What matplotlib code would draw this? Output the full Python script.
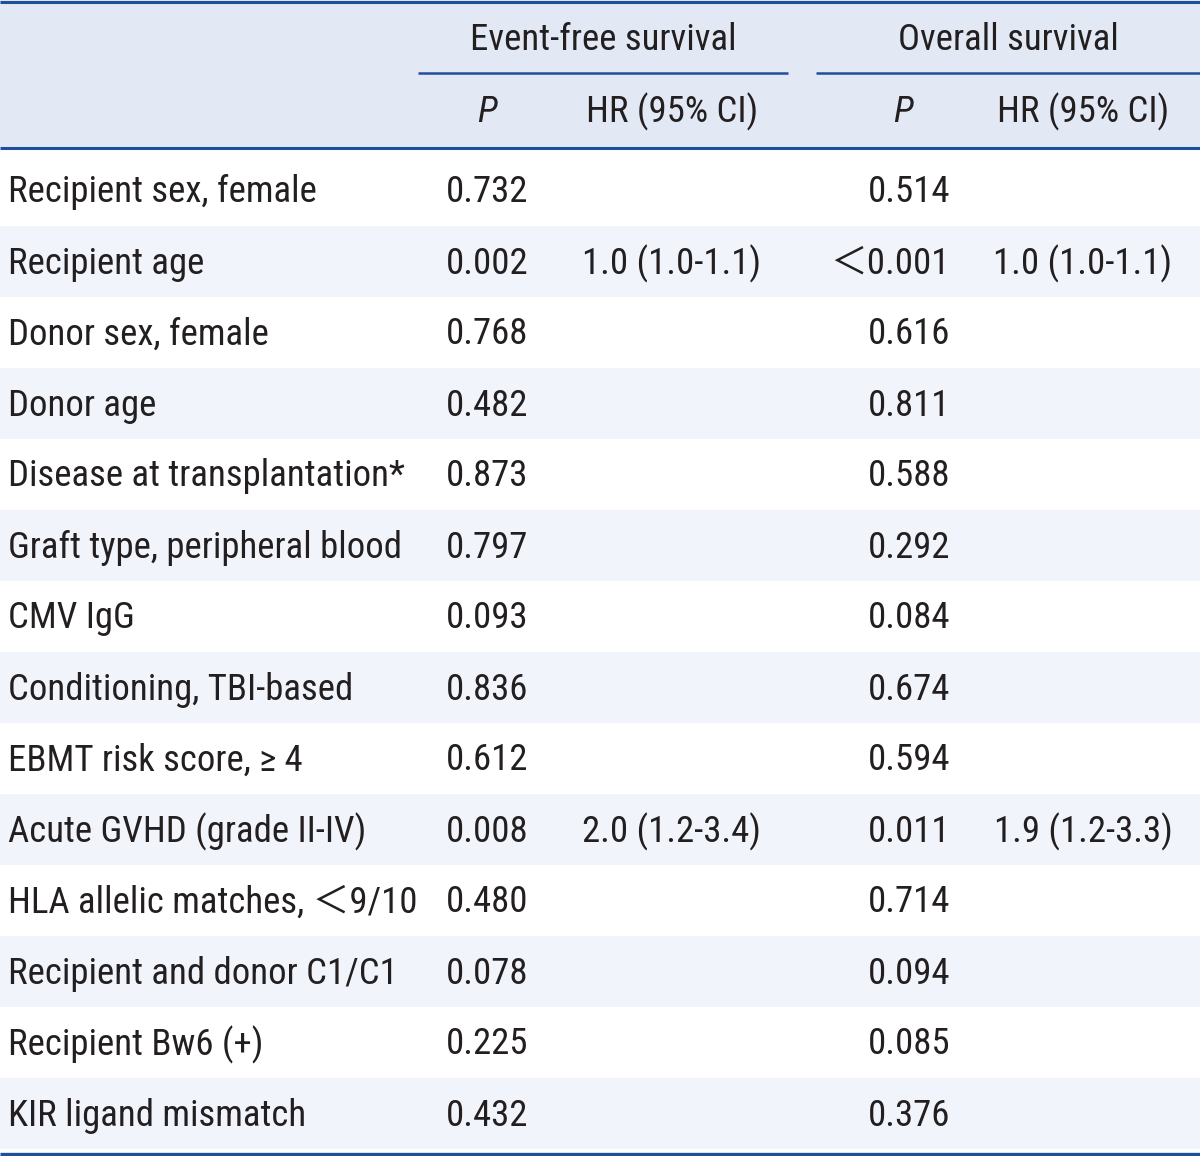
import matplotlib
matplotlib.use('Agg')
import matplotlib.pyplot as plt
from matplotlib.font_manager import fontManager

# table content
variables = [
    'Recipient sex, female',
    'Recipient age',
    'Donor sex, female',
    'Donor age',
    'Disease at transplantation*',
    'Graft type, peripheral blood',
    'CMV IgG',
    'Conditioning, TBI-based',
    'EBMT risk score, \u2265 4',
    'Acute GVHD (grade II-IV)',
    'HLA allelic matches, \uff1c9/10',
    'Recipient and donor C1/C1',
    'Recipient Bw6 (+)',
    'KIR ligand mismatch',
]
efs_p = ['0.732', '0.002', '0.768', '0.482', '0.873', '0.797', '0.093',
         '0.836', '0.612', '0.008', '0.480', '0.078', '0.225', '0.432']
efs_hr = ['', '1.0 (1.0-1.1)', '', '', '', '', '', '', '', '2.0 (1.2-3.4)',
          '', '', '', '']
os_p = ['0.514', '\uff1c0.001', '0.616', '0.811', '0.588', '0.292', '0.084',
        '0.674', '0.594', '0.011', '0.714', '0.094', '0.085', '0.376']
os_hr = ['', '1.0 (1.0-1.1)', '', '', '', '', '', '', '', '1.9 (1.2-3.3)',
         '', '', '', '']
group_headers = ['Event-free survival', 'Overall survival']
sub_headers = ['P', 'HR (95% CI)']

names = {f.name for f in fontManager.ttflist}
fam = [f for f in ['Roboto Condensed', 'Liberation Sans Narrow', 'DejaVu Sans Condensed']
       if f in names] + ['Noto Sans CJK SC', 'DejaVu Sans']
plt.rcParams['font.family'] = fam

line_c = '#1f4f9c'
head_bg = '#e2e9f5'
stripe = '#f1f5fb'
txt_c = '#231f20'
fs = 26.5

W, H = 1200, 1156
fig = plt.figure(figsize=(W / 100, H / 100), dpi=100)
ax = fig.add_axes([0, 0, 1, 1])
ax.set_xlim(0, W)
ax.set_ylim(H, 0)
ax.axis('off')

head_bot = 148
row_h = 71.0
row_top0 = 155

# header background
ax.add_patch(plt.Rectangle((0, 0), W, head_bot, color=head_bg, lw=0))
# stripes
for i in range(len(variables)):
    top = row_top0 + i * row_h
    if i % 2 == 1:
        ax.add_patch(plt.Rectangle((0, top), W, row_h, color=stripe, lw=0))

# rules
ax.plot([0, W], [1.5, 1.5], color=line_c, lw=2.2, solid_capstyle='butt')
ax.plot([0, W], [head_bot, head_bot], color=line_c, lw=2.2, solid_capstyle='butt')
ax.plot([0, W], [1154, 1154], color=line_c, lw=2.4, solid_capstyle='butt')
ax.plot([418, 788], [73, 73], color=line_c, lw=1.8, solid_capstyle='butt')
ax.plot([816, W], [73, 73], color=line_c, lw=1.8, solid_capstyle='butt')

# headers
ax.text(603, 40, group_headers[0], ha='center', va='center', fontsize=fs, color=txt_c)
ax.text(1008, 40, group_headers[1], ha='center', va='center', fontsize=fs, color=txt_c)
for px, hx in [(487, 672), (903, 1083)]:
    ax.text(px, 112, sub_headers[0], ha='center', va='center', fontsize=fs,
            color=txt_c, style='italic')
    ax.text(hx, 112, sub_headers[1], ha='center', va='center', fontsize=fs, color=txt_c)

# body
for i, name in enumerate(variables):
    y = row_top0 + i * row_h + row_h / 2 + 2
    ax.text(8, y, name, ha='left', va='center', fontsize=fs, color=txt_c)
    ax.text(528, y, efs_p[i], ha='right', va='center', fontsize=fs, color=txt_c)
    ax.text(672, y, efs_hr[i], ha='center', va='center', fontsize=fs, color=txt_c)
    ax.text(950, y, os_p[i], ha='right', va='center', fontsize=fs, color=txt_c)
    ax.text(1083, y, os_hr[i], ha='center', va='center', fontsize=fs, color=txt_c)

fig.savefig('out.png', dpi=100)
